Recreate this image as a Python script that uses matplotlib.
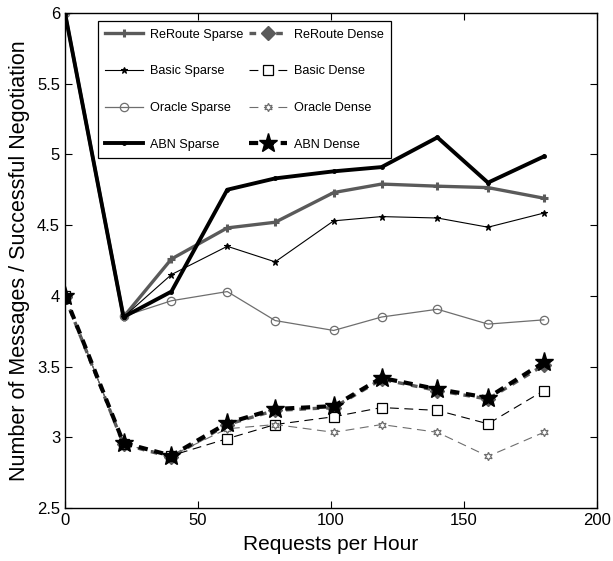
import matplotlib
matplotlib.use("Agg")
import matplotlib.pyplot as plt

plt.rcParams['font.family'] = ['Liberation Sans', 'DejaVu Sans']

x = [0, 22, 40, 61, 79, 101, 119, 140, 159, 180]

reroute_sparse = [6.0, 3.85, 4.26, 4.48, 4.52, 4.73, 4.79, 4.775, 4.765, 4.69]
basic_sparse = [6.0, 3.85, 4.15, 4.35, 4.24, 4.53, 4.56, 4.55, 4.485, 4.585]
oracle_sparse = [6.0, 3.855, 3.965, 4.03, 3.825, 3.755, 3.85, 3.905, 3.80, 3.83]
abn_sparse = [6.0, 3.85, 4.03, 4.75, 4.83, 4.88, 4.91, 5.12, 4.80, 4.985]

reroute_dense = [3.99, 2.95, 2.86, 3.09, 3.19, 3.21, 3.41, 3.33, 3.27, 3.51]
basic_dense = [4.0, 2.95, 2.87, 2.99, 3.09, 3.145, 3.21, 3.19, 3.095, 3.33]
oracle_dense = [4.0, 2.95, 2.87, 3.06, 3.09, 3.035, 3.09, 3.035, 2.865, 3.035]
abn_dense = [4.0, 2.96, 2.87, 3.10, 3.20, 3.22, 3.42, 3.34, 3.28, 3.53]

xticks = [0, 50, 100, 150, 200]
yticks = [2.5, 3, 3.5, 4, 4.5, 5, 5.5, 6]
yticklabels = ['2.5', '3', '3.5', '4', '4.5', '5', '5.5', '6']

fig = plt.figure(figsize=(6.13, 5.61), dpi=100)
ax = fig.add_axes([0.106, 0.0945, 0.868, 0.8825])

g1 = '#5a5a5a'
g2 = '#6e6e6e'

ax.plot(x, reroute_sparse, color=g1, lw=2.4, marker='+', ms=6, mew=2.2, label='ReRoute Sparse')
ax.plot(x, basic_sparse, color='black', lw=0.8, marker='*', ms=5, mew=0.8, label='Basic Sparse')
ax.plot(x, oracle_sparse, color=g2, lw=0.9, marker='o', ms=6, mfc='none', mec=g2, mew=0.9, label='Oracle Sparse')
ax.plot(x, abn_sparse, color='black', lw=2.8, marker='.', ms=5, label='ABN Sparse')

ax.plot(x, reroute_dense, color=g1, lw=2.4, ls=(0, (2, 2)), marker='D', ms=7, label='ReRoute Dense', zorder=2)
ax.plot(x, basic_dense, color='black', lw=0.8, ls=(0, (8, 5)), marker='s', ms=6.5, mfc='white', mec='black', mew=0.9, label='Basic Dense')
ax.plot(x, oracle_dense, color=g2, lw=0.8, ls=(0, (8, 5)), marker=(6, 1, 0), ms=6, mfc='white', mec=g2, mew=0.9, label='Oracle Dense')
ax.plot(x, abn_dense, color='black', lw=3.0, ls=(0, (2.2, 1.6)), marker='*', ms=14, label='ABN Dense', zorder=3)

ax.set_xlim(0, 200)
ax.set_ylim(2.5, 6)
ax.set_xticks(xticks)
ax.set_yticks(yticks)
ax.set_yticklabels(yticklabels)
ax.tick_params(direction='in', labelsize=12, length=5, top=True, right=True, width=0.8)
for s in ax.spines.values():
    s.set_linewidth(1.0)

ax.set_xlabel('Requests per Hour', fontsize=15, labelpad=5)
ax.set_ylabel('Number of Messages / Successful Negotiation', fontsize=15.5, labelpad=5)

leg = ax.legend(loc='upper left', bbox_to_anchor=(0.05, 0.996), ncol=2, numpoints=1,
                fontsize=9.1, frameon=True, fancybox=False, edgecolor='black',
                handlelength=3.0, handletextpad=0.55, labelspacing=1.95, columnspacing=0.4,
                borderpad=0.6, framealpha=1)
leg.get_frame().set_linewidth(0.9)

fig.savefig('out.png', dpi=100)
